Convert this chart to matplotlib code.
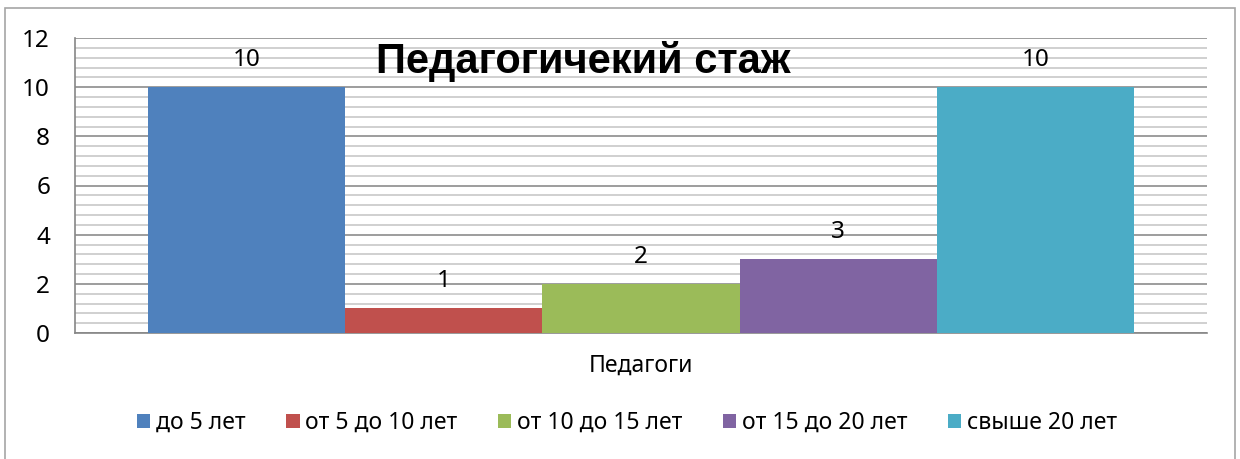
import matplotlib.pyplot as plt
from matplotlib.ticker import MultipleLocator
import numpy as np

plt.rcParams['font.family'] = ['Noto Sans', 'DejaVu Sans']

# dati
categorie = ['до 5 лет', 'от 5 до 10 лет', 'от 10 до 15 лет', 'от 15 до 20 лет', 'свыше 20 лет']
valori = [10, 1, 2, 3, 10]
colori = ['#4F81BD', '#C0504D', '#9BBB59', '#8064A2', '#4BACC6']
gruppo = 'Педагоги'
titolo = 'Педагогичекий стаж'

fig = plt.figure(figsize=(12.4, 4.59), dpi=100)
ax = fig.add_axes([75/1240, 1 - 333/459, (1207-75)/1240, (333-38)/459])

# bordo esterno (il fondo esce dall'immagine)
fig.patches.append(plt.Rectangle((5/1240, -0.05), 1230/1240, 1.05 - 8/459,
                                 transform=fig.transFigure, fill=False,
                                 edgecolor='#a6a6a6', linewidth=1.2))

pos = np.arange(len(valori)) - (len(valori) - 1) / 2
barre = ax.bar(pos, valori, width=1.0, color=colori, label=categorie, zorder=3)

for p, v in zip(pos, valori):
    ax.annotate(str(v), (p, v), xytext=(0, 19.5), textcoords='offset points',
                ha='center', va='center', fontsize=17.5)

ax.set_ylim(0, 12)
ax.set_xlim(-2.87, 2.87)
ax.yaxis.set_major_locator(MultipleLocator(2))
ax.yaxis.set_minor_locator(MultipleLocator(0.4))
ax.grid(axis='y', which='major', color='#8c8c8c', linewidth=1.2, zorder=0)
ax.grid(axis='y', which='minor', color='#c8c8c8', linewidth=1.2, zorder=0)
ax.set_xticks([])
ax.tick_params(axis='y', which='both', length=0, labelsize=17.5, pad=18)
for s in ['top', 'right']:
    ax.spines[s].set_visible(False)
for s in ['left', 'bottom']:
    ax.spines[s].set_color('#868686')
    ax.spines[s].set_linewidth(1.2)

ax.set_xlabel(gruppo, fontsize=16.5, labelpad=15)

fig.text(583/1240, 1 - 62/459, titolo, ha='center', va='center',
         fontsize=30, fontweight='bold', family=['Liberation Sans', 'DejaVu Sans'])

fig.legend(handles=barre.patches, labels=categorie, loc='center',
           bbox_to_anchor=(627/1240, 1 - 423/459), ncol=5, frameon=False,
           fontsize=16.5, handlelength=0.6, handleheight=0.6,
           handletextpad=0.25, columnspacing=1.75)

fig.savefig('out.png', dpi=100)
